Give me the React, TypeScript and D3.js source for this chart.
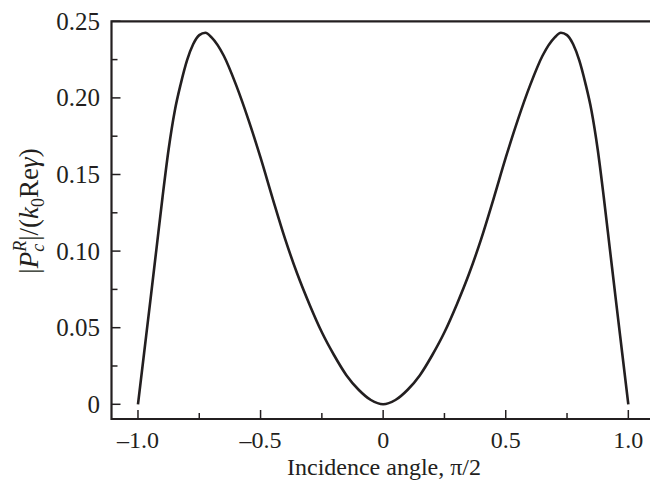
import React from "react";
import * as d3 from "d3";

// incidence angle (units of pi/2) and |P_c^R|/(k0 Re gamma)
const angles = [
  -1.0, -0.975, -0.95, -0.925, -0.9, -0.875, -0.85, -0.825, -0.8, -0.775, -0.75,
  -0.725, -0.7, -0.65, -0.6, -0.55, -0.5, -0.45, -0.4, -0.35, -0.3, -0.25, -0.2,
  -0.15, -0.1, -0.05, 0, 0.05, 0.1, 0.15, 0.2, 0.25, 0.3, 0.35, 0.4, 0.45, 0.5,
  0.55, 0.6, 0.65, 0.7, 0.725, 0.75, 0.775, 0.8, 0.825, 0.85, 0.875, 0.9, 0.925,
  0.95, 0.975, 1.0,
];
const values = [
  0, 0.0335, 0.067, 0.101, 0.135, 0.1665, 0.1915, 0.2095, 0.2245, 0.235, 0.241,
  0.2425, 0.2395, 0.2275, 0.2085, 0.186, 0.161, 0.134, 0.108, 0.085, 0.065, 0.047,
  0.032, 0.019, 0.0095, 0.0028, 0, 0.0028, 0.0095, 0.019, 0.032, 0.047, 0.065,
  0.085, 0.108, 0.134, 0.161, 0.186, 0.2085, 0.2275, 0.2395, 0.2425, 0.241, 0.235,
  0.2245, 0.2095, 0.1915, 0.1665, 0.135, 0.101, 0.067, 0.0335, 0,
];

const xMajor = [-1, -0.5, 0, 0.5, 1];
const xMinor = [-0.75, -0.25, 0.25, 0.75];
const xTickLabels = ["\u20131.0", "\u20130.5", "0", "0.5", "1.0"];
const yMajor = [0, 0.05, 0.1, 0.15, 0.2, 0.25];
const yMinor = [0.025, 0.075, 0.125, 0.175, 0.225];
const yTickLabels = ["0", "0.05", "0.10", "0.15", "0.20", "0.25"];

const W = 650;
const H = 487;
const font = "'Liberation Serif', 'Times New Roman', serif";
const ink = "#231f20";

const App = () => {
  const x = d3.scaleLinear().domain([-1.108, 1.108]).range([111.5, 654.8]);
  const y = d3.scaleLinear().domain([-0.0096, 0.25]).range([419, 21.3]);

  const pts = angles.map((a, i) => [a, values[i]] as [number, number]);
  const line = d3
    .line<[number, number]>()
    .x((d) => x(d[0]))
    .y((d) => y(d[1]))
    .curve(d3.curveMonotoneX);

  const left = x.range()[0];
  const right = x.range()[1];
  const bottom = y.range()[0];
  const top = y.range()[1];

  return (
    <div style={{ position: "absolute", left: 0, top: 0 }}>
      <svg width={W} height={H} style={{ display: "block", background: "#fff" }}>
        {/* frame */}
        <path
          d={`M${right},${top}H${left}V${bottom}H${right}`}
          fill="none"
          stroke={ink}
          strokeWidth={2.2}
        />
        {/* x ticks */}
        {xMajor.map((t) => (
          <line key={"xM" + t} x1={x(t)} x2={x(t)} y1={bottom} y2={bottom - 9} stroke={ink} strokeWidth={1.5} />
        ))}
        {xMinor.map((t) => (
          <line key={"xm" + t} x1={x(t)} x2={x(t)} y1={bottom} y2={bottom - 6} stroke={ink} strokeWidth={1.5} />
        ))}
        {xMajor.map((t, i) => (
          <text key={"xl" + t} x={x(t)} y={448} textAnchor="middle" fontFamily={font} fontSize={24} fill={ink}>
            {xTickLabels[i]}
          </text>
        ))}
        {/* y ticks */}
        {yMajor.map((t) => (
          <line key={"yM" + t} x1={left} x2={left + 9} y1={y(t)} y2={y(t)} stroke={ink} strokeWidth={1.5} />
        ))}
        {yMinor.map((t) => (
          <line key={"ym" + t} x1={left} x2={left + 6} y1={y(t)} y2={y(t)} stroke={ink} strokeWidth={1.5} />
        ))}
        {yMajor.map((t, i) => (
          <text key={"yl" + t} x={100} y={y(t) + 8.5} textAnchor="end" fontFamily={font} fontSize={25} fill={ink}>
            {yTickLabels[i]}
          </text>
        ))}
        {/* curve */}
        <path d={line(pts) || ""} fill="none" stroke={ink} strokeWidth={2.6} />
        {/* axis titles */}
        <text x={384} y={475} textAnchor="middle" fontFamily={font} fontSize={24} fill={ink}>
          Incidence angle, π/2
        </text>
        <text
          transform={`translate(38,211) rotate(-90)`}
          textAnchor="middle"
          fontFamily={font}
          fontSize={27}
          fill={ink}
        >
          <tspan>|</tspan>
          <tspan fontStyle="italic">P</tspan>
          <tspan fontStyle="italic" fontSize={18} dy={6}>c</tspan>
          <tspan fontStyle="italic" fontSize={18} dx={-8} dy={-18}>R</tspan>
          <tspan dy={12}>|/(</tspan>
          <tspan fontStyle="italic">k</tspan>
          <tspan fontSize={18} dy={6}>0</tspan>
          <tspan dy={-6}>Re</tspan>
          <tspan fontStyle="italic">γ</tspan>
          <tspan>)</tspan>
        </text>
      </svg>
    </div>
  );
};

export default App;
